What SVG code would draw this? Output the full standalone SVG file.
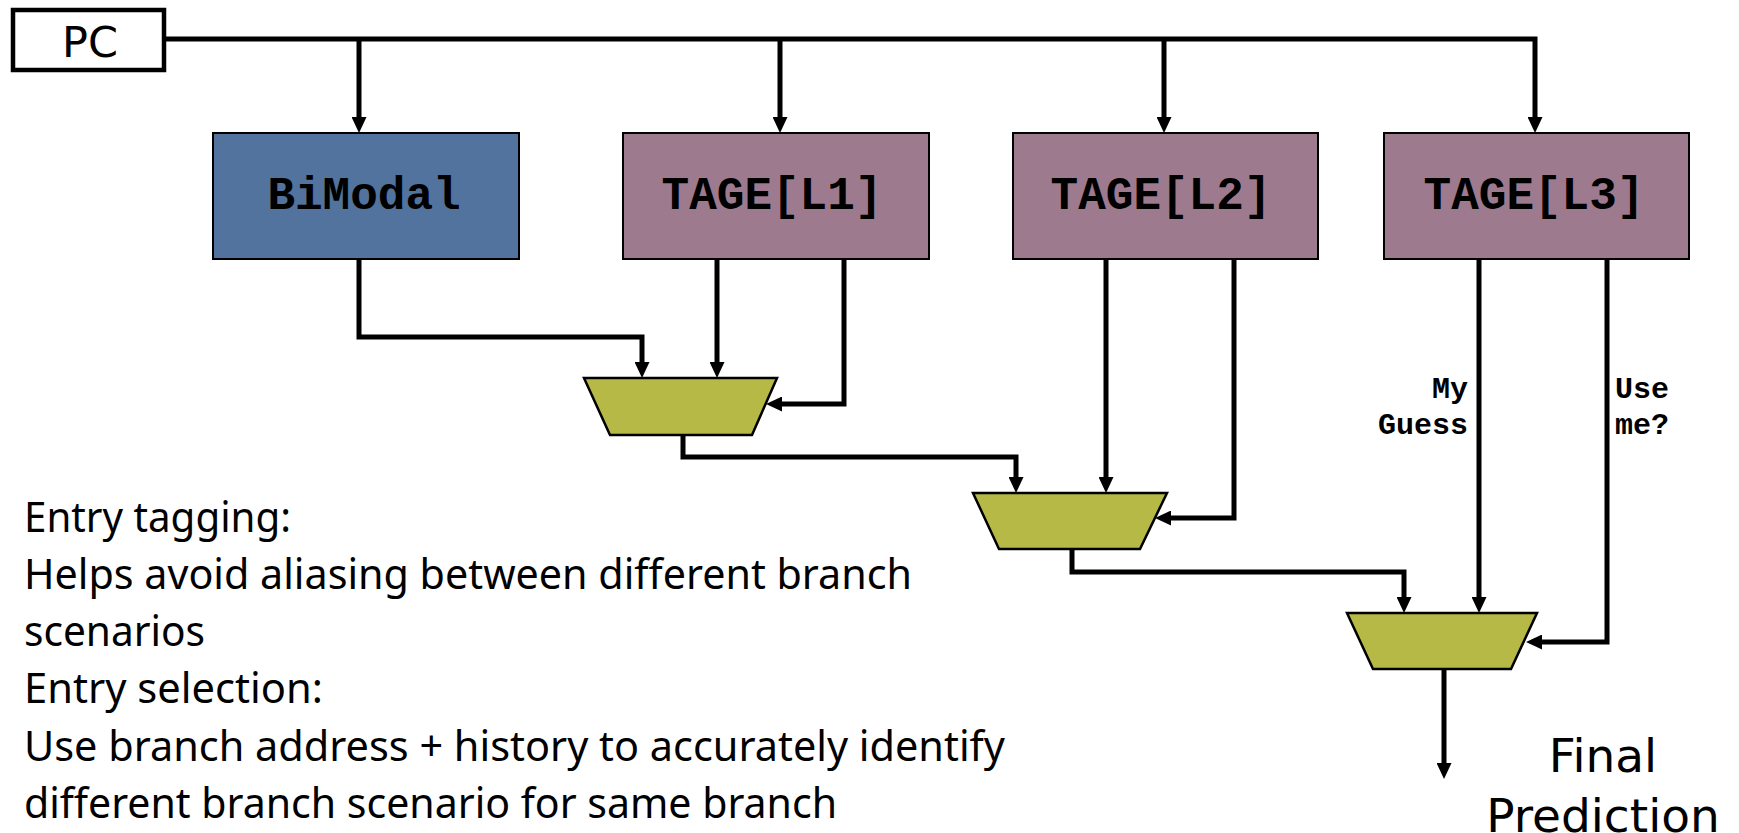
<svg xmlns="http://www.w3.org/2000/svg" width="1739" height="833" viewBox="0 0 1739 833">
<style>
.box{stroke:#000;stroke-width:2}
.bim{fill:#52739e}
.tage{fill:#9e7a8f}
.mux{fill:#b6b946;stroke:#000;stroke-width:2.5}
.lbl{font-family:"Liberation Mono","Courier New",monospace;font-weight:bold;font-size:46px;fill:#000}
.small{font-family:"Liberation Mono","Courier New",monospace;font-weight:bold;font-size:30px;fill:#000}
.sans{font-family:"DejaVu Sans",Verdana,sans-serif;fill:#000}
.body{font-family:"Noto Sans","Open Sans",sans-serif;font-size:42px;fill:#000}
.wire{fill:none;stroke:#000;stroke-width:5;stroke-linejoin:miter}
</style>
<defs>
<marker id="ah" markerUnits="userSpaceOnUse" markerWidth="16" markerHeight="15" refX="4" refY="7.5" orient="auto">
<path d="M0,0 L16,7.5 L0,15 z" fill="#000"/>
</marker>
</defs>
<rect width="1739" height="833" fill="#fff"/>
<g id="pc">
<rect x="13" y="10" width="151" height="60" fill="#fff" stroke="#000" stroke-width="4.5"/>
<text class="sans" x="90" y="57" font-size="43" text-anchor="middle">PC</text>
</g>
<g id="bimodal">
<rect class="box bim" x="213" y="133" width="306" height="126"/>
<text class="lbl" x="364" y="209" text-anchor="middle">BiModal</text>
</g>
<g id="tage1">
<rect class="box tage" x="623" y="133" width="306" height="126"/>
<text class="lbl" x="772" y="209" text-anchor="middle">TAGE[L1]</text>
</g>
<g id="tage2">
<rect class="box tage" x="1013" y="133" width="305" height="126"/>
<text class="lbl" x="1161" y="209" text-anchor="middle">TAGE[L2]</text>
</g>
<g id="tage3">
<rect class="box tage" x="1384" y="133" width="305" height="126"/>
<text class="lbl" x="1534" y="209" text-anchor="middle">TAGE[L3]</text>
</g>
<g id="mux1">
<polygon class="mux" points="584,378 777,378 752,435 610,435"/>
</g>
<g id="mux2">
<polygon class="mux" points="973,493 1167,493 1140,549 999,549"/>
</g>
<g id="mux3">
<polygon class="mux" points="1347,613 1537,613 1511,669 1373,669"/>
</g>
<g id="connectors">
<polyline class="wire" points="166,39 1535,39 1535,121" marker-end="url(#ah)"/>
<polyline class="wire" points="359,39 359,121" marker-end="url(#ah)"/>
<polyline class="wire" points="780,39 780,121" marker-end="url(#ah)"/>
<polyline class="wire" points="1164,39 1164,121" marker-end="url(#ah)"/>
<polyline class="wire" points="359,259 359,337 642,337 642,366" marker-end="url(#ah)"/>
<polyline class="wire" points="717,259 717,366" marker-end="url(#ah)"/>
<polyline class="wire" points="844,259 844,404 778,404" marker-end="url(#ah)"/>
<polyline class="wire" points="683,435 683,457 1016,457 1016,481" marker-end="url(#ah)"/>
<polyline class="wire" points="1106,259 1106,481" marker-end="url(#ah)"/>
<polyline class="wire" points="1234,259 1234,518 1167,518" marker-end="url(#ah)"/>
<polyline class="wire" points="1072,549 1072,572 1404,572 1404,601" marker-end="url(#ah)"/>
<polyline class="wire" points="1479,259 1479,601" marker-end="url(#ah)"/>
<polyline class="wire" points="1607,259 1607,642 1538,642" marker-end="url(#ah)"/>
<polyline class="wire" points="1444,669 1444,767" marker-end="url(#ah)"/>
</g>
<g id="labels">
<text class="small" x="1468" y="398" text-anchor="end">My</text>
<text class="small" x="1468" y="434" text-anchor="end">Guess</text>
<text class="small" x="1615" y="398">Use</text>
<text class="small" x="1615" y="434">me?</text>
<text class="sans" x="1603" y="772" font-size="47" text-anchor="middle">Final</text>
<text class="sans" x="1603" y="832" font-size="47" text-anchor="middle">Prediction</text>
</g>
<g id="notes">
<text class="body" x="24" y="532" textLength="267" lengthAdjust="spacingAndGlyphs">Entry tagging:</text>
<text class="body" x="24" y="589" textLength="888" lengthAdjust="spacingAndGlyphs">Helps avoid aliasing between different branch</text>
<text class="body" x="24" y="646" textLength="181" lengthAdjust="spacingAndGlyphs">scenarios</text>
<text class="body" x="24" y="703" textLength="299" lengthAdjust="spacingAndGlyphs">Entry selection:</text>
<text class="body" x="24" y="761" textLength="981" lengthAdjust="spacingAndGlyphs">Use branch address + history to accurately identify</text>
<text class="body" x="24" y="818" textLength="813" lengthAdjust="spacingAndGlyphs">different branch scenario for same branch</text>
</g>
</svg>
